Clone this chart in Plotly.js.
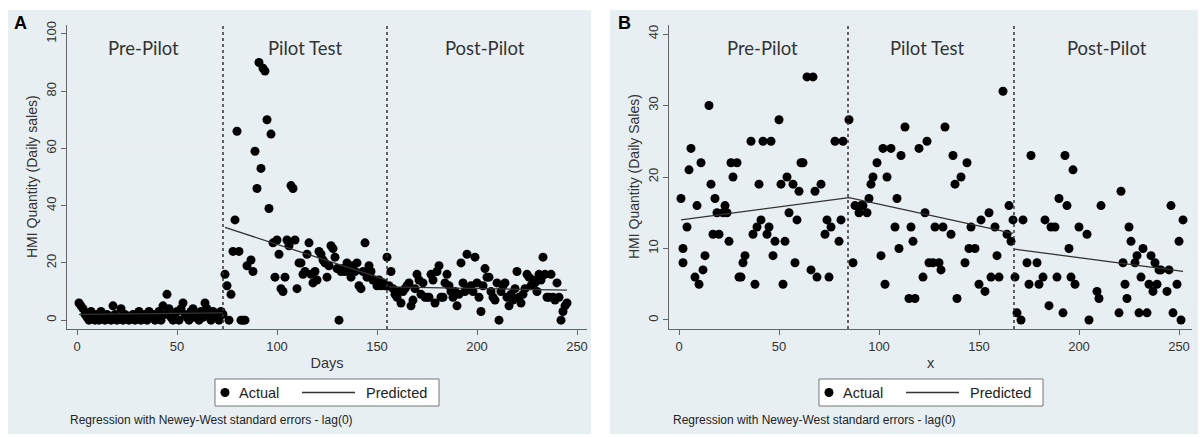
<!DOCTYPE html>
<html>
<head>
<meta charset="utf-8">
<script src="https://cdn.plot.ly/plotly-3.0.1.min.js"></script>
<style>html,body{margin:0;padding:0;background:#fff;}#chart{width:1200px;height:437px;}</style>
</head>
<body>
<div id="chart"></div>
<script>
// ---------- Panel A: HMI quantity by day ----------
const daysA = [
  1,2,3,4,5,6,7,8,9,10,11,12,13,14,15,16,17,18,19,20,21,22,23,24,25,26,27,28,29,30,
  31,32,33,34,35,36,37,38,39,40,41,42,43,44,45,46,47,48,49,50,51,52,53,54,55,56,57,58,59,60,
  61,62,63,64,65,66,67,68,69,70,71,72,73,
  74,75,76,77,78,79,80,81,82,83,84,85,87,88,89,90,91,92,93,94,95,96,97,98,99,100,
  101,102,103,104,105,106,107,108,109,110,111,112,113,114,115,116,117,118,119,120,
  121,122,123,124,125,126,127,128,129,130,131,132,133,134,135,136,137,138,139,140,
  141,142,143,144,145,146,147,148,149,150,151,152,153,154,155,
  156,157,158,159,160,161,162,163,164,165,166,167,168,169,170,171,172,173,174,175,
  176,177,178,179,180,181,182,183,184,185,186,187,188,189,190,191,192,193,194,195,
  196,197,198,199,200,201,202,203,204,205,206,207,208,209,210,211,212,213,214,215,
  216,217,218,219,220,221,222,223,224,225,226,227,228,229,230,231,232,233,234,235,
  236,237,238,239,240,241,242,243,244,245
];
const qtyA = [
  6,5,4,2,1,0,3,1,0,2,0,3,1,0,2,1,0,5,2,0,1,4,0,2,1,0,1,2,0,1,
  3,0,1,2,0,3,1,2,0,1,3,0,5,2,9,4,1,0,2,3,0,4,6,2,1,0,3,4,1,2,
  0,3,1,6,4,2,0,3,1,2,0,3,2,
  16,12,0,9,24,35,66,24,0,0,0,19,21,17,59,46,90,53,88,87,70,39,65,27,15,28,
  23,11,10,15,28,26,47,46,28,11,20,20,16,17,23,27,16,13,17,14,
  24,23,21,20,15,19,26,25,22,18,0,17,18,17,20,18,15,19,17,20,
  12,11,17,27,15,19,17,14,14,12,14,12,13,12,22,
  12,17,11,9,8,10,6,10,11,12,13,5,7,11,16,14,9,13,8,8,
  8,16,14,6,17,19,8,8,13,16,12,10,8,10,5,9,20,13,10,23,
  11,12,10,22,13,8,3,12,18,15,15,10,8,7,13,0,10,12,13,8,
  5,9,7,11,17,8,6,9,11,16,15,12,14,13,10,16,14,22,16,8,
  8,16,8,7,13,8,0,3,5,6
];
const predDaysA = [1, 73, null, 74, 155, null, 156, 245];
const predQtyA  = [2.0, 2.5, null, 32.4, 14.0, null, 11.6, 10.5];
const cutsA = [73, 155];

// ---------- Panel B ----------
const xB = [
  1,2,2,4,5,6,8,9,10,11,12,13,15,16,17,18,19,20,22,23,24,25,26,27,29,30,31,32,33,36,
  37,38,39,40,41,42,44,45,46,47,48,50,51,52,53,54,55,57,58,59,60,61,62,64,66,67,68,69,71,73,
  74,75,76,78,80,81,82,85,
  87,88,90,91,92,94,95,96,97,99,101,102,103,104,106,108,109,110,111,113,115,116,117,118,120,122,
  123,124,125,127,128,130,131,132,133,136,137,138,139,141,143,144,145,146,148,150,151,153,155,156,158,159,
  160,162,164,165,166,
  167,168,169,171,172,174,175,176,179,180,182,183,185,186,188,189,190,192,193,194,195,196,197,198,200,204,
  205,209,210,211,220,221,222,223,224,225,226,228,229,230,231,232,234,235,236,237,238,239,240,241,244,245,
  246,247,249,250,251,252
];
const yB = [
  17,10,8,13,21,24,6,16,5,22,7,9,30,19,12,17,15,12,15,16,15,11,22,20,22,6,6,8,9,25,
  12,5,13,19,14,25,12,13,25,9,11,28,19,5,11,20,15,19,8,14,18,22,22,34,7,34,18,6,19,12,
  14,6,13,25,11,14,25,28,
  8,16,15,16,16,15,17,19,20,22,9,24,5,20,24,13,17,10,23,27,3,13,11,3,24,6,
  15,25,8,8,13,8,7,13,27,12,23,19,3,20,8,22,10,13,10,5,14,4,15,6,13,9,
  6,32,12,16,11,
  14,6,1,0,14,8,5,23,8,5,6,14,2,13,13,6,17,1,23,16,10,6,21,5,13,12,
  0,4,3,16,1,18,8,5,3,13,11,8,9,1,6,10,1,5,9,4,8,5,7,7,4,7,
  16,1,5,11,0,14
];
const predXB = [1, 85, 167, null, 168, 252];
const predYB = [14.0, 17.1, 12.1, null, 9.9, 6.8];
const cutsB = [84.5, 167.5];

const regions = ["Pre-Pilot", "Pilot Test", "Post-Pilot"];
const regionPosA = [33, 114, 204];
const regionPosB = [41.5, 124, 214];
const legendLabels = ["Actual", "Predicted"];

const W = 1200, H = 437;
const px = v => v / W;
const py = v => 1 - v / H;

const tickFont = {family: "Liberation Sans, Arial, sans-serif", size: 13, color: "#333"};
const axisCommon = {
  showline: true, linecolor: "#666", linewidth: 1,
  ticks: "outside", ticklen: 5, tickcolor: "#666", tickwidth: 1,
  tickfont: tickFont, zeroline: false, fixedrange: true
};

const traces = [
  {x: daysA, y: qtyA, type: "scatter", mode: "markers", name: legendLabels[0],
   marker: {color: "#000", size: 9}, xaxis: "x", yaxis: "y"},
  {x: predDaysA, y: predQtyA, type: "scatter", mode: "lines", name: legendLabels[1],
   line: {color: "#333", width: 1.3}, connectgaps: false, xaxis: "x", yaxis: "y"},
  {x: xB, y: yB, type: "scatter", mode: "markers", name: legendLabels[0],
   marker: {color: "#000", size: 9}, xaxis: "x2", yaxis: "y2"},
  {x: predXB, y: predYB, type: "scatter", mode: "lines", name: legendLabels[1],
   line: {color: "#333", width: 1.3}, connectgaps: false, xaxis: "x2", yaxis: "y2"}
];

const shapes = [
  {type: "rect", xref: "paper", yref: "paper", x0: px(8), x1: px(591), y0: py(434), y1: py(10),
   fillcolor: "#e8eff2", line: {width: 0}, layer: "below"},
  {type: "rect", xref: "paper", yref: "paper", x0: px(610), x1: px(1198), y0: py(434), y1: py(10),
   fillcolor: "#e8eff2", line: {width: 0}, layer: "below"}
];
cutsA.forEach(c => shapes.push({type: "line", xref: "x", yref: "y domain", x0: c, x1: c, y0: 0, y1: 1,
  line: {color: "#333", width: 1.5, dash: "dot"}}));
cutsB.forEach(c => shapes.push({type: "line", xref: "x2", yref: "y2 domain", x0: c, x1: c, y0: 0, y1: 1,
  line: {color: "#333", width: 1.5, dash: "dot"}}));

const annotations = [];
const regFont = {family: "Lato, 'Open Sans', sans-serif", size: 18.5, color: "#333"};
regions.forEach((r, i) => {
  annotations.push({text: r, x: regionPosA[i], xref: "x", y: 0.924, yref: "y domain",
    showarrow: false, font: regFont, xanchor: "center", yanchor: "middle"});
  annotations.push({text: r, x: regionPosB[i], xref: "x2", y: 0.924, yref: "y2 domain",
    showarrow: false, font: regFont, xanchor: "center", yanchor: "middle"});
});
const titleFont = {family: "Liberation Sans, Arial, sans-serif", size: 14, color: "#333"};
annotations.push({text: "HMI Quantity (Daily sales)", x: px(32), y: py(177), xref: "paper", yref: "paper",
  textangle: -90, showarrow: false, font: titleFont, xanchor: "center", yanchor: "middle"});
annotations.push({text: "HMI Quantity (Daily Sales)", x: px(634), y: py(177), xref: "paper", yref: "paper",
  textangle: -90, showarrow: false, font: titleFont, xanchor: "center", yanchor: "middle"});
const noteFont = {family: "Liberation Sans, Arial, sans-serif", size: 12, color: "#222"};
annotations.push({text: "Regression with Newey-West standard errors - lag(0)", x: px(68), y: py(420),
  xref: "paper", yref: "paper", showarrow: false, font: noteFont, xanchor: "left", yanchor: "middle"});
annotations.push({text: "Regression with Newey-West standard errors - lag(0)", x: px(671), y: py(420),
  xref: "paper", yref: "paper", showarrow: false, font: noteFont, xanchor: "left", yanchor: "middle"});
const panelFont = {family: "Liberation Sans, Arial, sans-serif", size: 18, color: "#000"};
annotations.push({text: "<b>A</b>", x: px(20), y: py(23), xref: "paper", yref: "paper",
  showarrow: false, font: panelFont, xanchor: "center", yanchor: "middle"});
annotations.push({text: "<b>B</b>", x: px(624), y: py(23), xref: "paper", yref: "paper",
  showarrow: false, font: panelFont, xanchor: "center", yanchor: "middle"});

// Stata-style legend boxes (one per panel)
const legFont = {family: "Liberation Sans, Arial, sans-serif", size: 14.5, color: "#222"};
const legendLeft = [215, 819];
const legY = 392.5;
legendLeft.forEach(L => {
  shapes.push({type: "rect", xref: "paper", yref: "paper", x0: px(L), x1: px(L + 224),
    y0: py(406), y1: py(379), fillcolor: "#fff", line: {color: "#777", width: 1}});
  shapes.push({type: "circle", xref: "paper", yref: "paper", x0: px(L + 5.5), x1: px(L + 14.5),
    y0: py(legY + 4.5), y1: py(legY - 4.5), fillcolor: "#000", line: {color: "#000", width: 0}});
  shapes.push({type: "line", xref: "paper", yref: "paper", x0: px(L + 87), x1: px(L + 140),
    y0: py(legY), y1: py(legY), line: {color: "#333", width: 1.3}});
  annotations.push({text: legendLabels[0], x: px(L + 22), y: py(legY), xref: "paper", yref: "paper",
    showarrow: false, font: legFont, xanchor: "left", yanchor: "middle"});
  annotations.push({text: legendLabels[1], x: px(L + 149), y: py(legY), xref: "paper", yref: "paper",
    showarrow: false, font: legFont, xanchor: "left", yanchor: "middle"});
});

const layout = {
  width: W, height: H,
  margin: {l: 0, r: 0, t: 0, b: 0},
  paper_bgcolor: "#fff", plot_bgcolor: "#fff",
  showlegend: false,
  xaxis: Object.assign({}, axisCommon, {domain: [px(67), px(587)], range: [-5, 255],
    tickvals: [0, 50, 100, 150, 200, 250], showgrid: false, anchor: "y",
    title: {text: "Days", font: {family: "Liberation Sans, Arial, sans-serif", size: 14.5, color: "#333"}, standoff: 5}}),
  yaxis: Object.assign({}, axisCommon, {domain: [py(329), py(25)], range: [-3.1, 103.1],
    tickvals: [0, 20, 40, 60, 80, 100], tickangle: -90, showgrid: true, gridcolor: "#edf0f2", gridwidth: 1, anchor: "x"}),
  xaxis2: Object.assign({}, axisCommon, {domain: [px(669), px(1192)], range: [-5, 256.5],
    tickvals: [0, 50, 100, 150, 200, 250], showgrid: false, anchor: "y2",
    title: {text: "x", font: {family: "Liberation Sans, Arial, sans-serif", size: 14.5, color: "#333"}, standoff: 5}}),
  yaxis2: Object.assign({}, axisCommon, {domain: [py(329), py(25)], range: [-1.26, 41.26],
    tickvals: [0, 10, 20, 30, 40], tickangle: -90, showgrid: true, gridcolor: "#edf0f2", gridwidth: 1, anchor: "x2"}),
  shapes: shapes,
  annotations: annotations
};

Plotly.newPlot("chart", traces, layout, {displayModeBar: false, staticPlot: true});
</script>
</body>
</html>
